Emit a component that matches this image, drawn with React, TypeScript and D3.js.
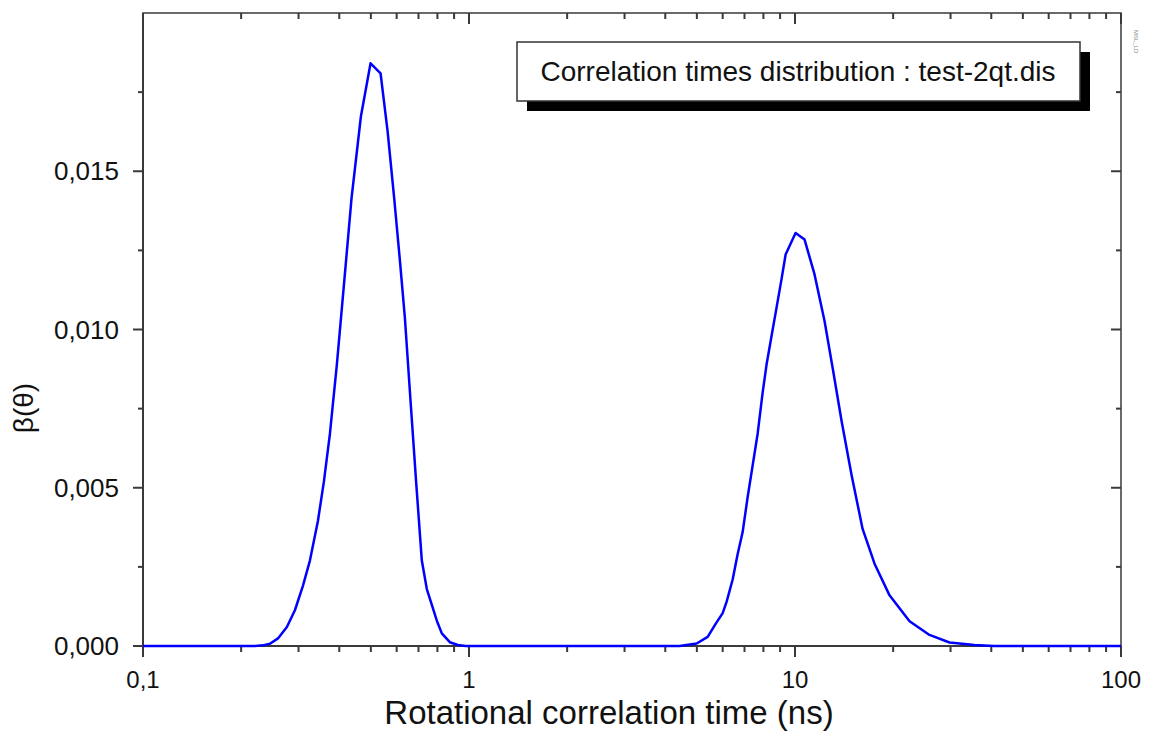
import React from "react";
import * as d3 from "d3";

// Peak 1 (short correlation times)
const peak1X = [0.1, 0.2205, 0.2333, 0.2451, 0.2594, 0.2763, 0.2924, 0.3094, 0.3251, 0.344, 0.3589, 0.3744, 0.3933, 0.4133, 0.4363, 0.466, 0.4989, 0.5355, 0.5628, 0.5894, 0.6136, 0.6355, 0.6632, 0.6893, 0.7166, 0.7424, 0.7691, 0.7968, 0.8253, 0.8732, 0.9241, 0.977];
const peak1Y = [0, 0, 0.00002, 0.00007, 0.00024, 0.0006, 0.00113, 0.0019, 0.0027, 0.00395, 0.0052, 0.0067, 0.0089, 0.0114, 0.01416, 0.01673, 0.01841, 0.01809, 0.01626, 0.01416, 0.0122, 0.0104, 0.0076, 0.0051, 0.0027, 0.0018, 0.0013, 0.0008, 0.0004, 0.00012, 0.00003, 0];
// Peak 2 (long correlation times)
const peak2X = [4.428, 4.993, 5.397, 5.708, 6.0, 6.171, 6.438, 6.668, 6.909, 7.156, 7.413, 7.679, 7.955, 8.182, 8.476, 8.781, 9.096, 9.359, 10.04, 10.7, 11.48, 12.32, 13.04, 13.9, 14.91, 16.12, 17.54, 19.5, 22.46, 25.86, 29.78, 35.53, 40.91, 100];
const peak2Y = [0, 0.00008, 0.00029, 0.0007, 0.00104, 0.0014, 0.0021, 0.0029, 0.0036, 0.0047, 0.0057, 0.0067, 0.008, 0.0089, 0.0098, 0.0107, 0.0116, 0.01237, 0.01305, 0.01284, 0.01174, 0.01027, 0.0088, 0.0071, 0.0054, 0.0037, 0.0026, 0.0016, 0.00078, 0.00035, 0.00011, 0.00003, 0, 0];

const xMajorTicks = [0.1, 1, 10, 100];
const xTickLabels = ["0,1", "1", "10", "100"];
const yMajorTicks = [0, 0.005, 0.01, 0.015];
const yTickLabels = ["0,000", "0,005", "0,010", "0,015"];
const yMinorTicks = [0.0025, 0.0075, 0.0125, 0.0175];

const xTitle = "Rotational correlation time (ns)";
const yTitle = "β(θ)";
const legendText = "Correlation times distribution : test-2qt.dis";

const W = 1149, H = 731;
const L = 143, R = 1121, T = 13, B = 646;

export default function App() {
  const x = d3.scaleLog().domain([0.1, 100]).range([L, R]);
  const y = d3.scaleLinear().domain([0, 0.02]).range([B, T]);
  const pts: [number, number][] = [];
  peak1X.forEach((v, i) => pts.push([v, peak1Y[i]]));
  peak2X.forEach((v, i) => pts.push([v, peak2Y[i]]));
  const line = d3.line<[number, number]>().x(d => x(d[0])).y(d => y(d[1]));
  const minorX: number[] = [];
  for (let dec = 0.1; dec < 100; dec *= 10) {
    for (let k = 2; k <= 9; k++) minorX.push(+(dec * k).toPrecision(3));
  }
  const font = "'Liberation Sans', Arial, sans-serif";
  const axisCol = "#3a3a3a";
  return (
    <svg width={W} height={H} style={{ position: "absolute", left: 0, top: 0, background: "#fff" }} fontFamily={font}>
      <rect x={0} y={0} width={W} height={H} fill="#fff" />
      {/* frame */}
      <rect x={L} y={T} width={R - L} height={B - T} fill="none" stroke={axisCol} strokeWidth={1.5} />
      <line x1={L} y1={T} x2={L} y2={B} stroke={axisCol} strokeWidth={2} />
      <line x1={L} y1={B} x2={R} y2={B} stroke={axisCol} strokeWidth={2} />
      {/* bottom & top x ticks */}
      {xMajorTicks.map((t, i) => (
        <g key={"xm" + i}>
          <line x1={x(t)} x2={x(t)} y1={B} y2={B + 11} stroke={axisCol} strokeWidth={2} />
          <line x1={x(t)} x2={x(t)} y1={T} y2={T + 11} stroke={axisCol} strokeWidth={2} />
          <text x={x(t)} y={688} fontSize={24} textAnchor="middle" fill="#111">{xTickLabels[i]}</text>
        </g>
      ))}
      {minorX.map((t, i) => (
        <g key={"xn" + i}>
          <line x1={x(t)} x2={x(t)} y1={B} y2={B + 6} stroke={axisCol} strokeWidth={2} />
          <line x1={x(t)} x2={x(t)} y1={T} y2={T + 6} stroke={axisCol} strokeWidth={2} />
        </g>
      ))}
      {/* y ticks */}
      {yMajorTicks.map((t, i) => (
        <g key={"ym" + i}>
          <line x1={L - 10} x2={L} y1={y(t)} y2={y(t)} stroke={axisCol} strokeWidth={2} />
          <line x1={R - 10} x2={R} y1={y(t)} y2={y(t)} stroke={axisCol} strokeWidth={2} />
          <text x={119} y={y(t) + 9} fontSize={26} textAnchor="end" fill="#111">{yTickLabels[i]}</text>
        </g>
      ))}
      {yMinorTicks.map((t, i) => (
        <g key={"yn" + i}>
          <line x1={L - 5} x2={L} y1={y(t)} y2={y(t)} stroke={axisCol} strokeWidth={2} />
          <line x1={R - 5} x2={R} y1={y(t)} y2={y(t)} stroke={axisCol} strokeWidth={2} />
        </g>
      ))}
      {/* curve */}
      <path d={line(pts) || ""} fill="none" stroke="#0000ff" strokeWidth={2.5} strokeLinejoin="round" />
      {/* legend */}
      <rect x={527} y={52} width={563} height={59} fill="#000" />
      <rect x={517} y={42} width={563} height={59} fill="#fff" stroke="#333" strokeWidth={1.5} />
      <text x={798} y={81} fontSize={28} textAnchor="middle" fill="#111">{legendText}</text>
      {/* titles */}
      <text x={609} y={724} fontSize={33} textAnchor="middle" fill="#111">{xTitle}</text>
      <text transform="translate(33,408) rotate(-90)" fontSize={28} textAnchor="middle" fill="#111">{yTitle}</text>
      <text transform="translate(1134,30) rotate(90)" fontSize={6} fill="#888">MSL_LD</text>
    </svg>
  );
}
